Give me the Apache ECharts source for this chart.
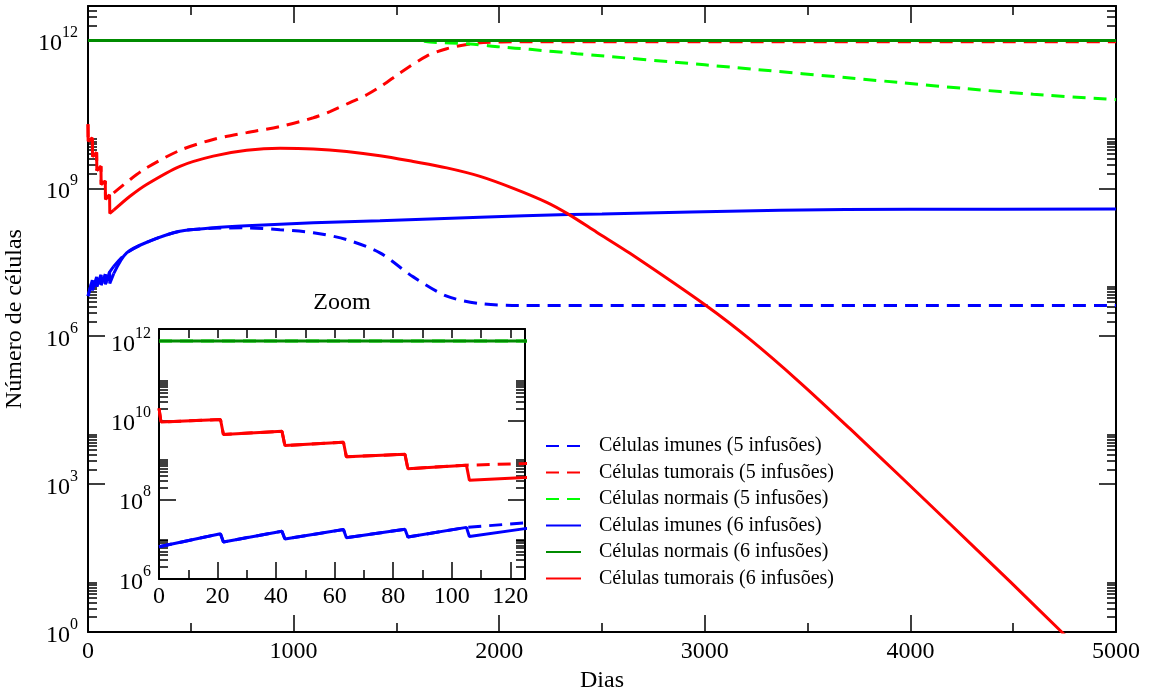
<!DOCTYPE html>
<html><head><meta charset="utf-8">
<script src="https://cdn.jsdelivr.net/npm/echarts@6/dist/echarts.min.js"></script>
<style>html,body{margin:0;padding:0;background:#fff}#c{width:1153px;height:691px}</style>
</head><body><div id="c"></div>
<script>
// ---------- data (days, cell counts) ----------
const immune5Days  = [0, 21, 22, 42, 43, 63, 64, 84, 85, 105, 125, 188, 300, 447, 609, 772, 934, 1096, 1258, 1420, 1582, 1745, 1907, 2100, 5000];
const immune5Cells = [6.5e6, 1.38e7, 8.6e6, 1.6e7, 1.02e7, 1.76e7, 1.1e7, 1.8e7, 1.14e7, 2.0e7, 2.6e7, 4.9e7, 8.5e7, 1.35e8, 1.55e8, 1.58e8, 1.45e8, 1.26e8, 9.1e7, 4.9e7, 1.6e7, 6.5e6, 4.6e6, 4.2e6, 4.2e6];

const tumor5Days  = [0, 0.7, 21, 22, 42, 43, 63, 64, 84, 85, 105, 125, 204, 285, 447, 609, 772, 934, 1096, 1177, 1274, 1356, 1436, 1518, 1647, 1745, 1858, 1923, 2100, 5000];
const tumor5Cells = [2.0e10, 9.0e9, 1.05e10, 4.4e9, 5.3e9, 2.3e9, 2.8e9, 1.2e9, 1.4e9, 6.0e8, 7.4e8, 8.1e8, 1.5e9, 2.6e9, 5.9e9, 9.8e9, 1.35e10, 1.8e10, 2.7e10, 3.6e10, 5.5e10, 7.9e10, 1.26e11, 2.2e11, 4.8e11, 6.8e11, 8.5e11, 9.1e11, 9.4e11, 9.4e11];

const normal5Days  = [0, 1600, 1663, 1858, 2004, 2150, 2377, 3000, 3949, 4274, 4598, 5000];
const normal5Cells = [1e12, 1e12, 9.3e11, 8.5e11, 7.4e11, 6.6e11, 5.4e11, 3.2e11, 1.4e11, 1.05e11, 8.1e10, 6.3e10];

const immune6Days  = [0, 21, 22, 42, 43, 63, 64, 84, 85, 105, 106, 125, 188, 300, 447, 609, 772, 1096, 1420, 1907, 2336, 2500, 3366, 4000, 5000];
const immune6Cells = [6.5e6, 1.38e7, 8.6e6, 1.6e7, 1.02e7, 1.76e7, 1.1e7, 1.8e7, 1.14e7, 2.0e7, 1.18e7, 1.86e7, 4.9e7, 8.5e7, 1.35e8, 1.58e8, 1.74e8, 2.0e8, 2.2e8, 2.6e8, 2.95e8, 3.0e8, 3.6e8, 3.75e8, 3.8e8];

const normal6Days  = [0, 5000];
const normal6Cells = [1e12, 1e12];

const tumor6Days  = [0, 0.7, 21, 22, 42, 43, 63, 64, 84, 85, 105, 106, 125, 204, 285, 447, 609, 772, 934, 1096, 1258, 1420, 1582, 1745, 1907, 2069, 2231, 2336, 2474, 2636, 3009, 3220, 3463, 3706, 3949, 4193, 4485, 4736, 4900];
const tumor6Cells = [2.0e10, 9.0e9, 1.05e10, 4.4e9, 5.3e9, 2.3e9, 2.8e9, 1.2e9, 1.4e9, 6.0e8, 7.4e8, 3.1e8, 3.6e8, 6.9e8, 1.2e9, 2.8e9, 4.5e9, 5.9e9, 6.5e9, 6.3e9, 5.6e9, 4.6e9, 3.5e9, 2.6e9, 1.75e9, 1.0e9, 5.2e8, 3.0e8, 1.29e8, 4.8e7, 4.1e6, 8.6e5, 1.15e5, 1.33e4, 1.46e3, 155, 10.5, 1.0, 0.22];

// ---------- tick labels ----------
const mainXMajor   = [0, 1000, 2000, 3000, 4000, 5000];
const mainXMinor   = [500, 1500, 2500, 3500, 4500];
const mainYMajor   = [1, 1e3, 1e6, 1e9, 1e12];
const insetXMajor  = [0, 20, 40, 60, 80, 100, 120];
const insetXMinor  = [10, 30, 50, 70, 90, 110];
const insetYMajor  = [1e6, 1e8, 1e10, 1e12];
const minorMultipliers = [2, 3, 4, 5, 6, 7, 8, 9, 10];
const infusionPhaseEnd = 125; // day where the stepped (infusion) part ends

const names = [
  'Células imunes (5 infusões)',
  'Células tumorais (5 infusões)',
  'Células normais (5 infusões)',
  'Células imunes (6 infusões)',
  'Células normais (6 infusões)',
  'Células tumorais (6 infusões)'
];

// ---------- build ----------
const FONT = 'Liberation Serif';
const pairs = (d, v) => d.map((x, i) => [x, v[i]]);
const minorOf = majors => majors.flatMap(m => minorMultipliers.map(k => m * k));

const seriesDefs = [
  {name: names[0], data: pairs(immune5Days, immune5Cells), color: '#0000ff', dash: [13, 8]},
  {name: names[1], data: pairs(tumor5Days, tumor5Cells), color: '#ff0000', dash: [13, 8]},
  {name: names[2], data: pairs(normal5Days, normal5Cells), color: '#00ff00', dash: [13, 8]},
  {name: names[3], data: pairs(immune6Days, immune6Cells), color: '#0000ff', dash: 'solid'},
  {name: names[4], data: pairs(normal6Days, normal6Cells), color: '#008b00', dash: 'solid'},
  {name: names[5], data: pairs(tumor6Days, tumor6Cells), color: '#ff0000', dash: 'solid'}
];

const tickLine = {color: '#000', width: 1.5};
const frameLine = {show: true, onZero: false, lineStyle: {color: '#000', width: 2}};
const noLine = {show: false, onZero: false};
const labelRich = {
  b: {fontSize: 24, fontFamily: FONT, color: '#000', padding: [7, 0, 0, 0]},
  s: {fontSize: 16, fontFamily: FONT, color: '#000', verticalAlign: 'top'}
};
const powLabel = v => '{b|10}{s|' + Math.round(Math.log10(v)) + '}';

function logAxis(grid, pos, min, max, ticks, len, opts) {
  return Object.assign({
    type: 'log', logBase: 10, gridIndex: grid, position: pos, min: min, max: max, offset: 0,
    axisLine: noLine,
    axisTick: {show: true, inside: true, length: len, customValues: ticks, lineStyle: tickLine},
    axisLabel: {show: false},
    splitLine: {show: false}, minorTick: {show: false}, minorSplitLine: {show: false}
  }, opts || {});
}
function valAxis(grid, pos, min, max, ticks, len, opts) {
  return Object.assign({
    type: 'value', gridIndex: grid, position: pos, min: min, max: max, offset: 0,
    axisLine: noLine,
    axisTick: {show: true, inside: true, length: len, customValues: ticks, lineStyle: tickLine},
    axisLabel: {show: false},
    splitLine: {show: false}, minorTick: {show: false}, minorSplitLine: {show: false}
  }, opts || {});
}

const xAxis = [
  valAxis(0, 'bottom', 0, 5000, mainXMajor, 17, {
    axisLine: frameLine,
    axisLabel: {show: true, customValues: mainXMajor, formatter: v => String(v), fontSize: 24, fontFamily: FONT, color: '#000', margin: 8},
    name: 'Dias', nameLocation: 'middle', nameGap: 33,
    nameTextStyle: {fontSize: 24, fontFamily: FONT, color: '#000'}
  }),
  valAxis(0, 'bottom', 0, 5000, mainXMinor, 9),
  valAxis(0, 'top', 0, 5000, mainXMajor, 17, {axisLine: frameLine}),
  valAxis(0, 'top', 0, 5000, mainXMinor, 9),
  valAxis(1, 'bottom', 0, 125, insetXMajor, 17, {
    axisLine: frameLine,
    axisLabel: {show: true, customValues: insetXMajor, formatter: v => String(v), fontSize: 24, fontFamily: FONT, color: '#000', margin: 6}
  }),
  valAxis(1, 'bottom', 0, 125, insetXMinor, 9),
  valAxis(1, 'top', 0, 125, insetXMajor, 9, {axisLine: frameLine}),
  valAxis(1, 'top', 0, 125, insetXMinor, 9)
];

const yAxis = [
  logAxis(0, 'left', 1, 5e12, mainYMajor, 17, {
    axisLine: frameLine,
    axisLabel: {show: true, customValues: mainYMajor, formatter: powLabel, rich: labelRich, margin: 10},
    name: 'Número de células', nameLocation: 'middle', nameGap: 45,
    nameTextStyle: {fontSize: 24, fontFamily: FONT, color: '#000'}
  }),
  logAxis(0, 'left', 1, 5e12, minorOf(mainYMajor), 9),
  logAxis(0, 'right', 1, 5e12, mainYMajor, 17, {axisLine: frameLine}),
  logAxis(0, 'right', 1, 5e12, minorOf(mainYMajor), 9),
  logAxis(1, 'left', 1e6, 2e12, insetYMajor, 17, {
    axisLine: frameLine,
    axisLabel: {show: true, customValues: insetYMajor, formatter: powLabel, rich: labelRich, margin: 8}
  }),
  logAxis(1, 'left', 1e6, 2e12, minorOf(insetYMajor), 9),
  logAxis(1, 'right', 1e6, 2e12, insetYMajor, 17, {axisLine: frameLine}),
  logAxis(1, 'right', 1e6, 2e12, minorOf(insetYMajor), 9)
];

const lineBase = (s, xi, yi, data, smooth) => ({
  type: 'line', name: s.name, data: data, xAxisIndex: xi, yAxisIndex: yi,
  showSymbol: false, symbol: 'none', smooth: smooth, clip: true,
  lineStyle: {color: s.color, width: 3, type: s.dash}, itemStyle: {color: s.color}
});

const series = [];
// main panel: stepped infusion part (straight segments) + smooth long-term part
seriesDefs.forEach(s => {
  const stepped = s.data.filter(p => p[0] <= infusionPhaseEnd);
  const lastIdx = stepped.length - 1;
  const tail = s.data.slice(Math.max(lastIdx, 0));
  series.push(lineBase(s, 0, 0, stepped, false));
  series.push(lineBase(s, 0, 0, tail, 0.3));
});
// inset panel
seriesDefs.forEach(s => series.push(lineBase(s, 4, 4, s.data, false)));

const chart = echarts.init(document.getElementById('c'), null, {renderer: 'canvas'});
chart.setOption({
  animation: false,
  backgroundColor: '#fff',
  grid: [
    {left: 88, top: 6, width: 1028, height: 626, containLabel: false, outerBoundsMode: 'none'},
    {left: 159, top: 329, width: 366, height: 250, containLabel: false, outerBoundsMode: 'none'}
  ],
  xAxis: xAxis,
  yAxis: yAxis,
  legend: {
    data: names, orient: 'vertical', left: 540, top: 431,
    itemWidth: 35, itemHeight: 14, itemGap: 6.5,
    itemStyle: {opacity: 0},
    textStyle: {fontSize: 20, fontFamily: FONT, color: '#000', padding: [0, 0, 0, 13]}
  },
  graphic: [{
    type: 'text', x: 342, y: 303,
    style: {text: 'Zoom', fontSize: 24, fontFamily: FONT, fill: '#000', align: 'center', verticalAlign: 'middle'}
  }],
  series: series
});
</script>
</body></html>
